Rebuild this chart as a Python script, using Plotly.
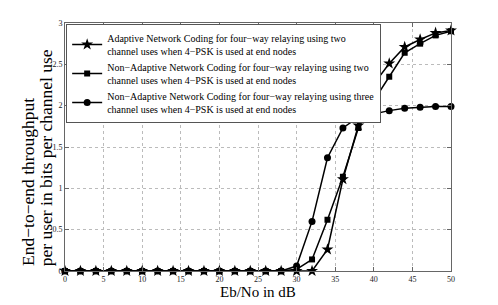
import plotly.graph_objects as go

ebno = [0, 2, 4, 6, 8, 10, 12, 14, 16, 18, 20, 22, 24, 26, 28, 30, 32, 34, 36, 38, 40, 42, 44, 46, 48, 50]
adaptive_two = [0, 0, 0, 0, 0, 0, 0, 0, 0, 0, 0, 0, 0, 0, 0, 0, 0, 0.26, 1.11, 1.76, 2.26, 2.51, 2.71, 2.80, 2.88, 2.91]
nonadaptive_two = [0, 0, 0, 0, 0, 0, 0, 0, 0, 0, 0, 0, 0, 0, 0, 0.02, 0.14, 0.62, 1.14, 1.73, 2.06, 2.35, 2.64, 2.75, 2.85, 2.90]
nonadaptive_three = [0, 0, 0, 0, 0, 0, 0, 0, 0, 0, 0, 0, 0, 0, 0, 0.06, 0.60, 1.37, 1.73, 1.86, 1.90, 1.94, 1.97, 1.98, 1.99, 1.99]

names = [
    "Adaptive Network Coding for four\u2212way relaying using two<br>channel uses when 4\u2212PSK is used at end nodes",
    "Non\u2212Adaptive Network Coding for four\u2212way relaying using two<br>channel uses when 4\u2212PSK is used at end nodes",
    "Non\u2212Adaptive Network Coding for four\u2212way relaying using three<br>channel uses when 4\u2212PSK is used at end nodes",
]
x_title = "Eb/No in dB"
y_title_lines = ["End\u2212to\u2212end throughput", "per user in bits per channel use"]
x_ticks = [0, 5, 10, 15, 20, 25, 30, 35, 40, 45, 50]
y_ticks = [0, 0.5, 1, 1.5, 2, 2.5, 3]
y_tick_text = ["0", "0.5", "1", "1.5", "2", "2.5", "3"]

SERIF = "Liberation Serif"

fig = go.Figure()
series = [
    (adaptive_two, "star", 9),
    (nonadaptive_two, "square", 6),
    (nonadaptive_three, "circle", 7),
]
for i, (vals, sym, sz) in enumerate(series):
    fig.add_trace(go.Scatter(
        x=ebno, y=vals, mode="lines+markers", name=names[i],
        line=dict(color="black", width=1.5),
        marker=dict(symbol=sym, size=sz, color="black"),
        cliponaxis=False,
    ))

axis_common = dict(
    showline=True, linecolor="#666", linewidth=1, mirror="ticks",
    ticks="inside", ticklen=4, tickcolor="#666",
    showgrid=True, gridcolor="#bbbbbb", griddash="dot", gridwidth=1,
    zeroline=False, automargin=False,
    tickfont=dict(family=SERIF, size=8, color="#222"),
)

fig.update_layout(
    width=482, height=297,
    margin=dict(l=57, r=39, t=15, b=34),
    paper_bgcolor="white", plot_bgcolor="white",
    font=dict(family=SERIF, color="black"),
    showlegend=True,
    legend=dict(
        x=0.003, y=0.996, xanchor="left", yanchor="top",
        bgcolor="white", bordercolor="#555", borderwidth=1,
        font=dict(family=SERIF, size=10, color="black"),
        itemwidth=30, tracegroupgap=0,
    ),
    xaxis=dict(range=[0, 50], tickvals=x_ticks, **axis_common),
    yaxis=dict(range=[0, 3], tickvals=y_ticks, ticktext=y_tick_text, **axis_common),
)

fig.add_annotation(text=x_title, xref="paper", yref="paper",
                   x=0.5, y=-0.043, xanchor="center", yanchor="top",
                   showarrow=False, font=dict(family=SERIF, size=15, color="black"))
fig.add_annotation(text=y_title_lines[0], xref="paper", yref="paper",
                   x=-0.096, y=0.012, xanchor="center", yanchor="bottom", textangle=-90,
                   showarrow=False, font=dict(family=SERIF, size=17.5, color="black"))
fig.add_annotation(text=y_title_lines[1], xref="paper", yref="paper",
                   x=-0.050, y=0.012, xanchor="center", yanchor="bottom", textangle=-90,
                   showarrow=False, font=dict(family=SERIF, size=17.5, color="black"))

fig.write_html("out.html")
